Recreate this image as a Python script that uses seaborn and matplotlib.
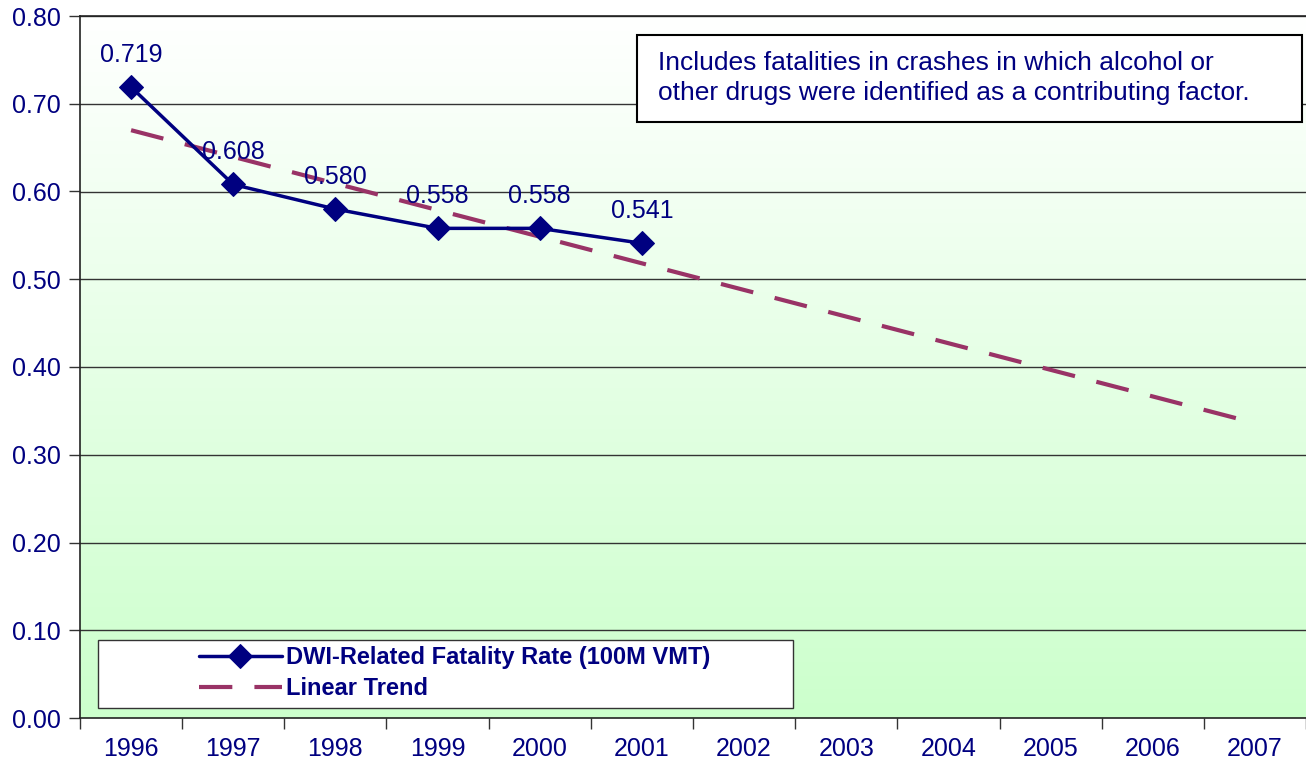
import numpy as np
import pandas as pd
import matplotlib
matplotlib.use("Agg")
import matplotlib.pyplot as plt
import seaborn as sns
from matplotlib.colors import LinearSegmentedColormap
from matplotlib.patches import Rectangle

years = ["1996", "1997", "1998", "1999", "2000", "2001", "2002", "2003", "2004", "2005", "2006", "2007"]
rate_years = ["1996", "1997", "1998", "1999", "2000", "2001"]
rates = [0.719, 0.608, 0.580, 0.558, 0.558, 0.541]
series_label = "DWI-Related Fatality Rate (100M VMT)"
trend_label = "Linear Trend"
note = "Includes fatalities in crashes in which alcohol or\nother drugs were identified as a contributing factor."

sns.set_theme(style="white")
plt.rcParams["font.family"] = ["Liberation Sans", "DejaVu Sans"]

navy = "#000080"
trend_color = "#993366"

W, H = 1306, 765
fig = plt.figure(figsize=(W / 100, H / 100), dpi=100)
L, R, T, B = 80, 1306, 16, 718
ax = fig.add_axes([L / W, 1 - B / H, (R - L) / W, (B - T) / H])
aw, ah = R - L, B - T

xpos = np.arange(len(years))
df = pd.DataFrame({"x": xpos[:len(rates)], "rate": rates})

# linear trend fitted to observed data, extended over all years
coef = np.polyfit(df["x"], df["rate"], 1)
tdf = pd.DataFrame({"x": xpos, "trend": np.polyval(coef, xpos)})

ax.set_xlim(-0.5, len(years) - 0.5)
ax.set_ylim(0, 0.8)

# gradient background
cmap = LinearSegmentedColormap.from_list("g", ["#CCFFCC", "#FFFFFF"])
grad = np.linspace(0, 1, 256).reshape(-1, 1)
ax.imshow(grad, cmap=cmap, aspect="auto", extent=[-0.5, len(years) - 0.5, 0, 0.8],
          origin="lower", zorder=0, vmin=0, vmax=1)

for yv in np.arange(0.1, 0.81, 0.1):
    ax.axhline(yv, color="#333333", lw=1.0, zorder=1)

sns.lineplot(data=tdf, x="x", y="trend", ax=ax, color=trend_color, lw=3,
             dashes=False, label=trend_label, zorder=2)
ax.lines[-1].set_dashes([8, 5.3])
sns.lineplot(data=df, x="x", y="rate", ax=ax, color=navy, lw=2.5, marker="D",
             markersize=12, markeredgecolor=navy, label=series_label, zorder=3)

for x, v in zip(df["x"], df["rate"]):
    ax.text(x, v + 0.037, f"{v:.3f}", ha="center", va="center", color=navy, fontsize=18, zorder=4)

ax.set_xticks(xpos)
ax.set_xticklabels(years)
ax.set_xticks(np.arange(-0.5, len(years), 1.0), minor=True)
ax.tick_params(axis="x", which="major", length=0, pad=14, labelsize=18, labelcolor=navy)
ax.tick_params(axis="x", which="minor", length=8, width=1, color="#333333", direction="out", bottom=True)
ax.set_yticks(np.arange(0, 0.81, 0.1))
ax.set_yticklabels([f"{v:.2f}" for v in np.arange(0, 0.81, 0.1)])
ax.tick_params(axis="y", length=8, width=1, color="#333333", direction="out", left=True,
               labelsize=18, labelcolor=navy, pad=6)
ax.set_xlabel("")
ax.set_ylabel("")
ax.spines["right"].set_visible(False)
for s in ["left", "bottom", "top"]:
    ax.spines[s].set_color("#222222")
    ax.spines[s].set_linewidth(1.2)

# legend frame
ax.add_patch(Rectangle(((98 - L) / aw, (B - 708) / ah), 695 / aw, 68 / ah, transform=ax.transAxes,
                       fc="white", ec="#333333", lw=1.0, zorder=5))
handles, labels = ax.get_legend_handles_labels()
order = [labels.index(series_label), labels.index(trend_label)]
leg = ax.legend([handles[i] for i in order], [labels[i] for i in order],
                loc="center left", bbox_to_anchor=((199 - L) / aw, (B - 673) / ah),
                frameon=False, prop={"weight": "bold", "size": 17},
                handlelength=3.5, borderpad=0, borderaxespad=0,
                labelspacing=0.35, handletextpad=0.2)
for t in leg.get_texts():
    t.set_color(navy)
leg.set_zorder(6)

# note box
fig.add_artist(Rectangle((637 / W, 1 - 122 / H), (1302 - 637) / W, 87 / H, transform=fig.transFigure,
                         fc="white", ec="black", lw=1.5, zorder=7))
fig.text(658 / W, 1 - 78 / H, note, ha="left", va="center", color=navy, fontsize=19,
         linespacing=1.3, zorder=8)

fig.savefig("out.png", dpi=100)
